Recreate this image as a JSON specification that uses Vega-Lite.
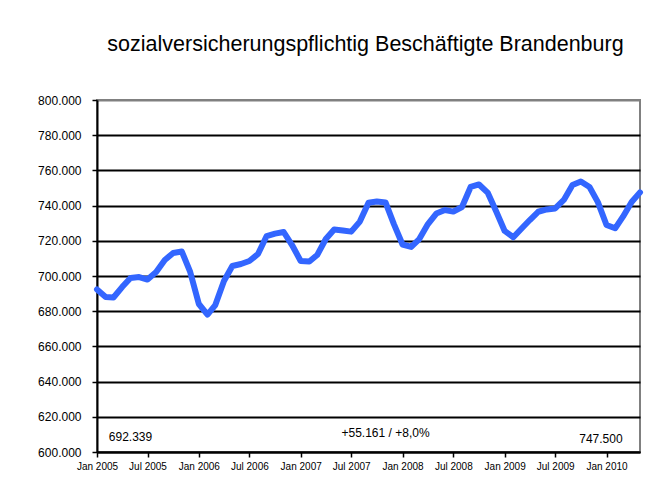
{
  "$schema": "https://vega.github.io/schema/vega-lite/v6.json",
  "width": 543,
  "height": 352,
  "autosize": {"type": "none"},
  "padding": {"left": 97, "top": 100, "right": 29, "bottom": 31},
  "background": "white",
  "config": {
    "font": "Liberation Sans",
    "view": {"stroke": "#808080", "strokeWidth": 2}
  },
  "title": {
    "text": "sozialversicherungspflichtig Beschäftigte Brandenburg",
    "font": "Liberation Sans",
    "fontSize": 21.5,
    "fontWeight": "normal",
    "color": "black",
    "anchor": "middle",
    "dx": -3,
    "offset": 39
  },
  "datasets": {
    "series": [
      {"month": "2005-01-01", "value": 692339},
      {"month": "2005-02-01", "value": 688000},
      {"month": "2005-03-01", "value": 687800},
      {"month": "2005-04-01", "value": 693700},
      {"month": "2005-05-01", "value": 698900},
      {"month": "2005-06-01", "value": 699400},
      {"month": "2005-07-01", "value": 698000},
      {"month": "2005-08-01", "value": 702300},
      {"month": "2005-09-01", "value": 709100},
      {"month": "2005-10-01", "value": 713100},
      {"month": "2005-11-01", "value": 713900},
      {"month": "2005-12-01", "value": 702300},
      {"month": "2006-01-01", "value": 684100},
      {"month": "2006-02-01", "value": 678100},
      {"month": "2006-03-01", "value": 683500},
      {"month": "2006-04-01", "value": 697200},
      {"month": "2006-05-01", "value": 705700},
      {"month": "2006-06-01", "value": 706800},
      {"month": "2006-07-01", "value": 708500},
      {"month": "2006-08-01", "value": 712500},
      {"month": "2006-09-01", "value": 722700},
      {"month": "2006-10-01", "value": 724100},
      {"month": "2006-11-01", "value": 725000},
      {"month": "2006-12-01", "value": 717600},
      {"month": "2007-01-01", "value": 708500},
      {"month": "2007-02-01", "value": 708200},
      {"month": "2007-03-01", "value": 711900},
      {"month": "2007-04-01", "value": 721000},
      {"month": "2007-05-01", "value": 726400},
      {"month": "2007-06-01", "value": 725900},
      {"month": "2007-07-01", "value": 725200},
      {"month": "2007-08-01", "value": 730900},
      {"month": "2007-09-01", "value": 741600},
      {"month": "2007-10-01", "value": 742300},
      {"month": "2007-11-01", "value": 741800},
      {"month": "2007-12-01", "value": 729500},
      {"month": "2008-01-01", "value": 717900},
      {"month": "2008-02-01", "value": 716500},
      {"month": "2008-03-01", "value": 721000},
      {"month": "2008-04-01", "value": 729500},
      {"month": "2008-05-01", "value": 735500},
      {"month": "2008-06-01", "value": 737500},
      {"month": "2008-07-01", "value": 736600},
      {"month": "2008-08-01", "value": 739200},
      {"month": "2008-09-01", "value": 750600},
      {"month": "2008-10-01", "value": 752000},
      {"month": "2008-11-01", "value": 747400},
      {"month": "2008-12-01", "value": 736900},
      {"month": "2009-01-01", "value": 725600},
      {"month": "2009-02-01", "value": 722000},
      {"month": "2009-03-01", "value": 726700},
      {"month": "2009-04-01", "value": 731800},
      {"month": "2009-05-01", "value": 736500},
      {"month": "2009-06-01", "value": 737800},
      {"month": "2009-07-01", "value": 738400},
      {"month": "2009-08-01", "value": 743200},
      {"month": "2009-09-01", "value": 751700},
      {"month": "2009-10-01", "value": 753700},
      {"month": "2009-11-01", "value": 750600},
      {"month": "2009-12-01", "value": 742000},
      {"month": "2010-01-01", "value": 729000},
      {"month": "2010-02-01", "value": 727100},
      {"month": "2010-03-01", "value": 733700},
      {"month": "2010-04-01", "value": 742000},
      {"month": "2010-05-01", "value": 747500}
    ],
    "notes": [
      {"month": "2005-05-01", "value": 608500, "label": "692.339"},
      {"month": "2007-11-01", "value": 610800, "label": "+55.161 / +8,0%"},
      {"month": "2009-12-12", "value": 607400, "label": "747.500"}
    ]
  },
  "encoding": {
    "x": {
      "field": "month",
      "type": "temporal",
      "scale": {"domain": [{"year": 2005, "month": 1, "date": 1}, {"year": 2010, "month": 5, "date": 1}], "nice": false},
      "axis": {
        "title": null,
        "values": [
          {"year": 2005, "month": 1, "date": 1}, {"year": 2005, "month": 7, "date": 1},
          {"year": 2006, "month": 1, "date": 1}, {"year": 2006, "month": 7, "date": 1},
          {"year": 2007, "month": 1, "date": 1}, {"year": 2007, "month": 7, "date": 1},
          {"year": 2008, "month": 1, "date": 1}, {"year": 2008, "month": 7, "date": 1},
          {"year": 2009, "month": 1, "date": 1}, {"year": 2009, "month": 7, "date": 1},
          {"year": 2010, "month": 1, "date": 1}
        ],
        "format": "%b %Y",
        "grid": false,
        "domainColor": "black",
        "domainWidth": 2,
        "tickColor": "black",
        "tickWidth": 1.5,
        "tickSize": 5,
        "labelFont": "Liberation Sans",
        "labelFontSize": 10,
        "labelColor": "black",
        "labelPadding": 4,
        "labelAngle": 0,
        "labelFlush": false,
        "labelOverlap": false
      }
    },
    "y": {
      "field": "value",
      "type": "quantitative",
      "scale": {"domain": [600000, 800000], "nice": false, "zero": false},
      "axis": {
        "title": null,
        "values": [600000, 620000, 640000, 660000, 680000, 700000, 720000, 740000, 760000, 780000, 800000],
        "labelExpr": "replace(format(datum.value, ','), ',', '.')",
        "labelOverlap": false,
        "grid": true,
        "gridColor": {"condition": {"test": "datum.value === 800000", "value": "#808080"}, "value": "black"},
        "gridWidth": 2,
        "gridOpacity": 1,
        "domainColor": "black",
        "domainWidth": 2,
        "tickColor": "black",
        "tickWidth": 1.5,
        "tickSize": 5,
        "labelFont": "Liberation Sans",
        "labelFontSize": 12,
        "labelColor": "black",
        "labelPadding": 11
      }
    }
  },
  "layer": [
    {
      "data": {"name": "series", "format": {"parse": {"month": "date:'%Y-%m-%d'"}}},
      "mark": {"type": "line", "color": "#3366ff", "strokeWidth": 6, "strokeJoin": "round", "strokeCap": "round", "clip": false}
    },
    {
      "data": {"name": "notes", "format": {"parse": {"month": "date:'%Y-%m-%d'"}}},
      "mark": {"type": "text", "font": "Liberation Sans", "fontSize": 12, "color": "black", "align": "center", "baseline": "middle"},
      "encoding": {
        "text": {"field": "label", "type": "nominal"}
      }
    }
  ]
}
